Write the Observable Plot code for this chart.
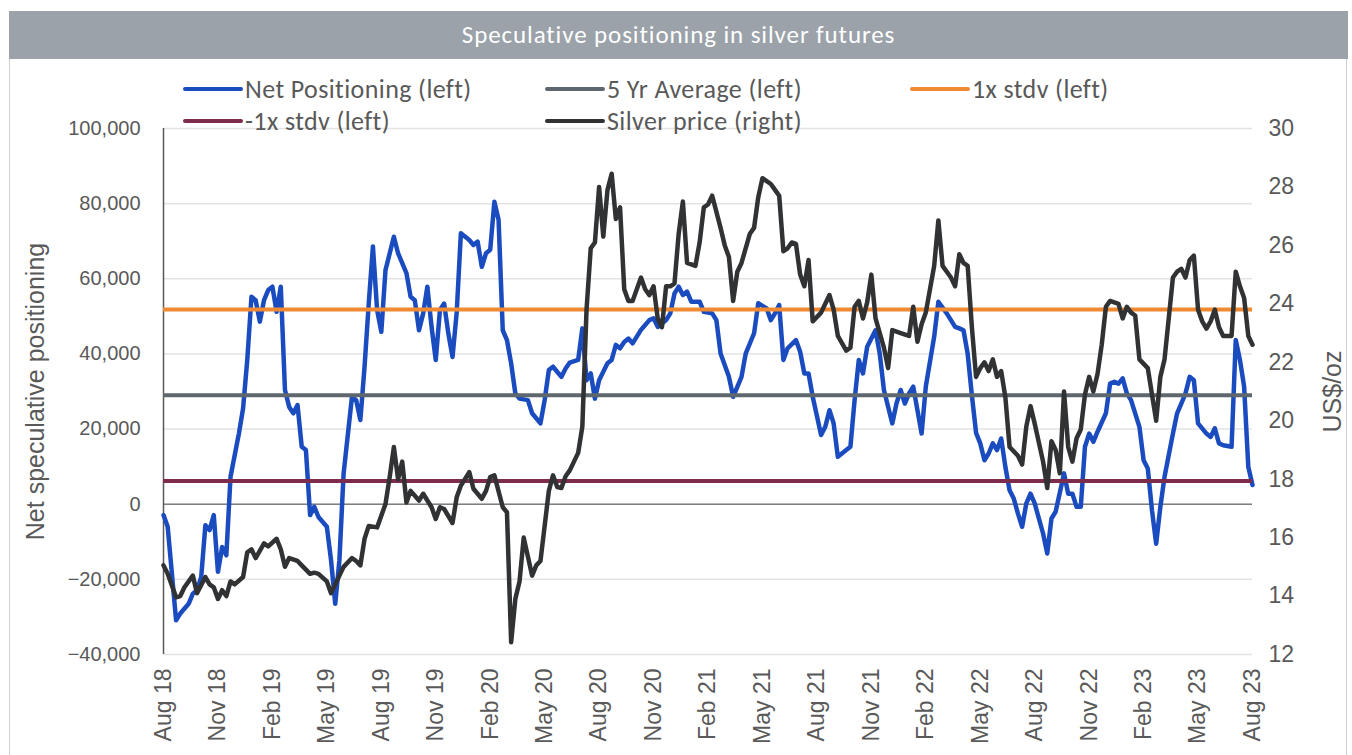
<!DOCTYPE html>
<html>
<head>
<meta charset="utf-8">
<script src="https://cdn.jsdelivr.net/npm/d3@7"></script>
<script src="https://cdn.jsdelivr.net/npm/@observablehq/plot@0.6"></script>
<style>
  html, body { margin: 0; padding: 0; background: #fff; }
  #wrap { position: relative; width: 1352px; height: 755px; overflow: hidden; }
  #frame { position: absolute; left: 9px; top: 11px; width: 1338px; height: 760px; border: 1px solid #cfcfcf; box-sizing: border-box; }
  #title { position: absolute; left: 9px; top: 11px; width: 1339px; height: 48px; background: #9ba2a9;
           color: #fff; font-family: Carlito, Lato, sans-serif; font-size: 25px; letter-spacing: 0.9px; line-height: 48px; text-align: center; }
  #chart { position: absolute; left: 0; top: 62px; }
  .leg { position: absolute; display: flex; align-items: center; font-family: Carlito, Lato, sans-serif;
         font-size: 26px; letter-spacing: 0.4px; color: #595959; white-space: nowrap; }
  .sw { width: 60px; height: 4px; border-radius: 2px; margin-right: 2px; }
</style>
</head>
<body>
<div id="wrap">
  <div id="frame"></div>
  <div id="title"></div>
  <div id="chart"></div>
  <div id="legend"></div>
</div>
<script>
const titleText = "Speculative positioning in silver futures";
const xLabels = ["Aug 18","Nov 18","Feb 19","May 19","Aug 19","Nov 19","Feb 20","May 20","Aug 20","Nov 20",
  "Feb 21","May 21","Aug 21","Nov 21","Feb 22","May 22","Aug 22","Nov 22","Feb 23","May 23","Aug 23"];
const leftTicks = [-40000,-20000,0,20000,40000,60000,80000,100000];
const priceTicks = [12,14,16,18,20,22,24,26,28,30];

// Net speculative positioning (contracts), by week number since the first week of Aug 2018
const netWeeks = [0,1,3,4,6,7,8,9,10,11,12,13,14,15,16,18,19,20,21,22,23,24,25,26,27,28,29,30,31,32,33,34,35,36,37,39,40,41,42,43,45,46,47,48,49,50,51,52,53,55,56,58,59,60,61,62,63,64,65,66,67,68,69,70,71,73,74,75,76,77,78,79,80,81,82,83,84,85,87,88,90,91,92,93,95,96,97,99,100,101,102,103,104,106,107,108,109,110,111,112,114,115,116,117,118,120,121,122,123,124,125,126,128,129,131,132,133,135,136,138,139,141,142,144,145,146,147,148,149,151,152,153,154,155,157,158,159,160,161,163,164,165,166,167,168,170,171,172,174,175,176,177,178,179,181,182,184,185,187,189,190,191,192,193,194,195,196,197,198,199,200,201,202,203,204,205,206,207,208,210,211,212,213,215,216,217,218,219,220,221,222,223,225,226,227,228,229,230,231,233,234,235,236,237,238,239,241,242,243,244,245,246,247,249,250,251,252,253,255,256,257,258,259,260];
const netValues = [-2900,-6000,-30900,-29100,-26500,-23800,-22900,-19400,-5600,-6900,-2900,-18000,-11400,-13600,7300,18800,25500,38400,55200,54300,48600,54300,57000,57900,51200,57900,30400,25900,24200,26400,15300,14400,-2900,-700,-3400,-6000,-14900,-26500,-14900,8200,28600,27700,22400,36600,53400,68600,51700,45900,62300,71200,66800,61500,55200,54300,46300,50800,57900,47200,38400,51700,53400,45500,39200,51000,72100,70300,69000,69900,63200,66800,67700,80500,75700,46300,43700,37500,29500,28100,27700,24200,21500,27700,35700,36600,33900,36100,37700,38400,46800,33000,34800,28100,33000,37500,38400,42400,41500,43200,44100,42800,46400,47700,49000,49500,47200,49000,50800,56100,57900,55700,56600,53900,53900,51200,50800,49000,40100,33900,28600,33900,40100,45500,53500,52100,49000,50800,53000,38400,41500,43700,40600,34800,34800,28600,18400,20600,25000,21500,12600,14400,15300,27700,38400,34800,41900,46300,40100,30400,21500,26800,30400,26800,29500,31300,18800,31300,44600,53900,50800,47200,46800,46300,40000,29000,19000,16200,11700,13500,16200,14400,17500,9900,3700,1500,-2500,-6000,200,2800,200,-7800,-13100,-3800,-2000,8200,2800,2800,-700,-700,15300,18800,16600,19300,24200,32100,32600,32100,33500,29500,27700,20600,11700,9500,-1600,-10500,-700,7300,18800,24200,26800,29500,33900,33000,21500,18800,17900,20200,16200,15700,15300,43700,38400,31300,9900,5100];

// Silver price (US$/oz), by week number
const priceWeeks = [0,1,3,4,5,7,8,10,11,12,13,14,15,16,17,19,20,21,22,24,25,27,28,29,30,32,33,35,36,37,39,40,42,43,45,46,47,48,49,51,53,54,55,56,57,58,59,61,62,63,64,65,66,67,69,70,71,73,74,76,77,78,79,81,82,83,84,85,86,88,89,90,92,93,94,95,96,97,98,99,100,101,102,103,104,105,106,107,108,109,110,111,112,114,115,116,117,118,119,120,121,122,123,124,125,127,128,129,130,131,133,134,135,136,137,138,140,141,142,143,144,145,146,147,148,149,150,151,152,153,154,155,157,158,159,160,161,163,164,165,166,167,168,169,170,172,173,174,176,178,179,180,181,182,184,185,186,188,189,190,191,192,193,194,195,196,197,198,199,200,201,202,204,205,206,207,208,210,211,212,213,214,215,216,217,218,219,220,221,222,223,224,225,226,228,229,230,231,232,233,235,236,237,238,239,240,241,242,243,244,245,246,247,248,249,250,251,252,253,255,256,257,258,259,260];
const priceValues = [15.05,14.76,13.96,14.0,14.3,14.7,14.1,14.65,14.4,14.3,13.9,14.2,14.0,14.5,14.4,14.65,15.5,15.6,15.3,15.8,15.7,15.96,15.6,15.0,15.3,15.2,15.05,14.76,14.8,14.76,14.5,14.1,14.7,15.0,15.3,15.2,15.05,15.96,16.4,16.35,17.15,18.07,19.1,18.0,18.6,17.2,17.6,17.27,17.5,17.27,17.04,16.64,17.04,16.98,16.5,17.38,17.78,18.24,17.67,17.33,17.6,18.07,18.13,17.04,16.87,12.42,13.9,14.5,16.0,14.7,15.05,15.2,17.6,18.13,17.73,17.7,18.1,18.3,18.6,18.9,19.8,23.8,25.9,26.1,28.0,26.3,27.9,28.45,26.9,27.3,24.5,24.1,24.1,24.9,24.5,24.3,24.6,23.5,23.2,24.6,24.6,24.7,26.4,27.5,25.4,25.3,26.1,27.3,27.4,27.7,26.6,26.0,25.6,24.1,25.1,25.4,26.4,26.6,27.65,28.3,28.2,28.1,27.9,27.7,25.8,25.9,26.1,26.05,25.0,24.6,25.5,23.4,23.7,24.0,24.3,23.8,22.9,22.4,22.5,23.9,24.1,23.5,24.05,25.0,23.5,22.5,21.8,23.1,23.0,22.9,23.9,22.7,23.3,23.7,25.3,26.85,25.3,24.9,24.6,25.7,25.4,25.3,23.2,21.5,21.8,22.0,21.7,22.1,21.5,21.7,20.8,19.1,18.8,18.5,19.8,20.5,19.9,18.6,17.7,19.3,19.0,18.2,21.0,19.1,18.6,19.4,19.7,20.9,21.5,21.0,21.6,22.6,23.9,24.1,24.0,23.5,23.9,23.7,23.6,22.1,21.8,20.9,20.0,21.5,22.1,23.5,24.9,25.1,25.2,24.9,25.5,25.65,23.8,23.4,23.15,23.4,23.8,23.2,22.9,22.9,25.1,24.6,24.2,22.9,22.6];

// Reference levels (left axis)
const avg5y = 29000;
const stdv1 = 51800;
const stdvNeg1 = 6200;

const seriesNames = ["Net Positioning (left)","5 Yr Average (left)","1x stdv (left)","-1x stdv (left)","Silver price (right)"];
const seriesColors = ["#1a4cc0","#5f676e","#ef8a33","#7d2c4b","#303234"];

// map price (right axis) onto the left scale
const L0 = -40000, L1 = 100000, P0 = 12, P1 = 30;
const toLeft = p => L0 + (p - P0) / (P1 - P0) * (L1 - L0);
const fromLeft = v => P0 + (v - L0) / (L1 - L0) * (P1 - P0);

const net = netWeeks.map((w, i) => ({w, v: netValues[i]}));
const price = priceWeeks.map((w, i) => ({w, v: toLeft(priceValues[i])}));
const lastWeek = 260;

document.getElementById("title").textContent = titleText;

const chart = Plot.plot({
  width: 1352,
  height: 693,
  marginLeft: 163,
  marginRight: 100,
  marginTop: 66,
  marginBottom: 101,
  style: {fontFamily: "'Liberation Sans', Arial, sans-serif", fontSize: "20px", color: "#595959", background: "transparent"},
  x: {type: "linear", domain: [0, lastWeek]},
  y: {domain: [L0, L1]},
  marks: [
    Plot.ruleY(leftTicks, {stroke: "#e3e3e3", strokeWidth: 1.5}),
    Plot.ruleY([0], {stroke: "#7f7f7f", strokeWidth: 1.5}),
    Plot.ruleX([0], {stroke: "#595959", strokeWidth: 1.5}),
    Plot.axisY(leftTicks, {anchor: "left", tickSize: 0, tickPadding: 23, tickFormat: d3.format(","), label: null, fill: "#595959", fontSize: 20}),
    Plot.axisY(priceTicks.map(toLeft), {anchor: "right", tickSize: 0, tickPadding: 16, tickFormat: d => String(Math.round(fromLeft(d))), label: null, fill: "#595959", fontSize: 23}),
    Plot.axisX(d3.range(0, lastWeek + 1, 13), {anchor: "bottom", tickSize: 0, tickPadding: 14, tickRotate: -90, tickFormat: d => xLabels[Math.round(d / 13)], label: null, fill: "#595959", fontSize: 23}),
    Plot.text(["Net speculative positioning"], {frameAnchor: "left", dx: -128, rotate: -90, textAnchor: "middle", fill: "#595959", fontSize: 25}),
    Plot.text(["US$/oz"], {frameAnchor: "right", dx: 80, rotate: -90, textAnchor: "middle", fill: "#595959", fontSize: 25}),
    Plot.line(net, {x: "w", y: "v", stroke: seriesColors[0], strokeWidth: 4.5, curve: "linear"}),
    Plot.ruleY([avg5y], {x1: 0, x2: lastWeek, stroke: seriesColors[1], strokeWidth: 4}),
    Plot.ruleY([stdv1], {x1: 0, x2: lastWeek, stroke: seriesColors[2], strokeWidth: 4}),
    Plot.ruleY([stdvNeg1], {x1: 0, x2: lastWeek, stroke: seriesColors[3], strokeWidth: 4}),
    Plot.line(price, {x: "w", y: "v", stroke: seriesColors[4], strokeWidth: 4.5, curve: "linear"})
  ]
});
document.getElementById("chart").appendChild(chart);

// legend (HTML, placed in the chart's top margin)
const legPos = [[183, 89],[545, 89],[910, 89],[183, 121],[545, 121]];
const legend = document.getElementById("legend");
seriesNames.forEach((name, i) => {
  const d = document.createElement("div");
  d.className = "leg";
  d.style.left = legPos[i][0] + "px";
  d.style.top = (legPos[i][1] - 15) + "px";
  d.style.height = "30px";
  const sw = document.createElement("div");
  sw.className = "sw";
  sw.style.background = seriesColors[i];
  const t = document.createElement("span");
  t.textContent = name;
  d.appendChild(sw); d.appendChild(t);
  legend.appendChild(d);
});
</script>
</body>
</html>
